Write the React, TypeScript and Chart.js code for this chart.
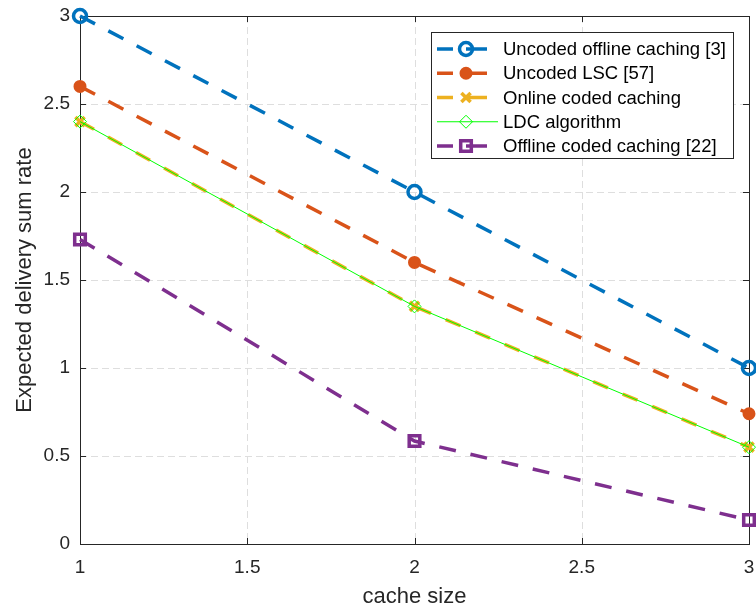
import React, { useEffect, useRef } from "react";
import { Chart, registerables } from "chart.js";
import { drawPoint } from "chart.js/helpers";

Chart.register(...registerables);

const cacheSizes = [1, 2, 3];
const uncodedOffline = [3, 2, 1];
const uncodedLSC = [2.6, 1.6, 0.74];
const onlineCoded = [2.4, 1.35, 0.55];
const ldcAlgorithm = [2.4, 1.35, 0.55];
const offlineCoded = [1.73, 0.585, 0.136];

const seriesLabels = [
  "Uncoded offline caching [3]",
  "Uncoded LSC [57]",
  "Online coded caching",
  "LDC algorithm",
  "Offline coded caching [22]",
];

const FONT = "'Liberation Sans', Arial, Helvetica, sans-serif";
const AXIS = "#262626";

const toXY = (ys: number[]) => cacheSizes.map((x, i) => ({ x, y: ys[i] }));

const gridBoxPlugin = {
  id: "gridBox",
  beforeDatasetsDraw(chart: any) {
    const { ctx, chartArea, scales } = chart;
    const { left, right, top, bottom } = chartArea;
    const xs = scales.x;
    const ys = scales.y;
    ctx.save();
    ctx.strokeStyle = "#dedede";
    ctx.lineWidth = 1;
    ctx.setLineDash([7, 4]);
    ctx.beginPath();
    xs.ticks.forEach((t: any) => {
      const px = Math.round(xs.getPixelForValue(t.value)) + 0.5;
      if (px <= left + 1 || px >= right - 1) return;
      ctx.moveTo(px, top);
      ctx.lineTo(px, bottom);
    });
    ys.ticks.forEach((t: any) => {
      const py = Math.round(ys.getPixelForValue(t.value)) + 0.5;
      if (py <= top + 1 || py >= bottom - 1) return;
      ctx.moveTo(left, py);
      ctx.lineTo(right, py);
    });
    ctx.stroke();
    ctx.setLineDash([]);
    ctx.strokeStyle = AXIS;
    const L = 6;
    ctx.beginPath();
    xs.ticks.forEach((t: any) => {
      const px = Math.round(xs.getPixelForValue(t.value)) + 0.5;
      ctx.moveTo(px, bottom);
      ctx.lineTo(px, bottom - L);
      ctx.moveTo(px, top);
      ctx.lineTo(px, top + L);
    });
    ys.ticks.forEach((t: any) => {
      const py = Math.round(ys.getPixelForValue(t.value)) + 0.5;
      ctx.moveTo(left, py);
      ctx.lineTo(left + L, py);
      ctx.moveTo(right, py);
      ctx.lineTo(right - L, py);
    });
    ctx.stroke();
    ctx.strokeRect(Math.round(left) + 0.5, Math.round(top) + 0.5, Math.round(right - left), Math.round(bottom - top));
    ctx.restore();
  },
};

const legendPlugin = {
  id: "matlabLegend",
  afterDraw(chart: any) {
    const { ctx } = chart;
    const boxL = 431, boxT = 32, boxW = 302, boxH = 126;
    ctx.save();
    ctx.fillStyle = "#ffffff";
    ctx.fillRect(boxL, boxT, boxW, boxH);
    ctx.strokeStyle = "#262626";
    ctx.lineWidth = 1;
    ctx.strokeRect(boxL + 0.5, boxT + 0.5, boxW, boxH);
    const rowY0 = 49;
    const rowStep = 24.25;
    chart.data.datasets.forEach((ds: any, i: number) => {
      const cy = rowY0 + i * rowStep;
      const mx = 466;
      ctx.strokeStyle = ds.borderColor;
      ctx.lineWidth = ds.borderWidth;
      ctx.setLineDash([]);
      ctx.beginPath();
      if (ds.borderDash && ds.borderDash.length) {
        ctx.moveTo(437, cy);
        ctx.lineTo(453, cy);
        ctx.moveTo(mx, cy);
        ctx.lineTo(487, cy);
      } else {
        ctx.moveTo(437, cy);
        ctx.lineTo(498, cy);
      }
      ctx.stroke();
      ctx.strokeStyle = ds.pointBorderColor;
      ctx.fillStyle = ds.pointBackgroundColor;
      ctx.lineWidth = ds.pointBorderWidth;
      drawPoint(ctx, { pointStyle: ds.pointStyle, rotation: 0, radius: ds.pointRadius, borderWidth: ds.pointBorderWidth }, mx, cy);
      ctx.fillStyle = "#000000";
      ctx.font = `18.5px ${FONT}`;
      ctx.textBaseline = "middle";
      ctx.textAlign = "left";
      ctx.fillText(ds.label, 503, cy + 1);
    });
    ctx.restore();
  },
};

export default function App() {
  const ref = useRef<HTMLCanvasElement | null>(null);
  useEffect(() => {
    document.body.style.margin = "0";
    const canvas = ref.current;
    if (!canvas) return;
    const blue = "#0072BD";
    const orange = "#D95319";
    const yellow = "#EDB120";
    const green = "#00FF00";
    const purple = "#7E2F8E";
    const dash = [17, 15];
    const chart = new Chart(canvas, {
      type: "line",
      data: {
        datasets: [
          {
            label: seriesLabels[0],
            data: toXY(uncodedOffline),
            borderColor: blue,
            borderWidth: 3.5,
            borderDash: dash,
            pointStyle: "circle",
            pointRadius: 6.5,
            pointBorderWidth: 3.5,
            pointBorderColor: blue,
            pointBackgroundColor: "rgba(255,255,255,0)",
            clip: false,
            order: 5,
          },
          {
            label: seriesLabels[1],
            data: toXY(uncodedLSC),
            borderColor: orange,
            borderWidth: 3.5,
            borderDash: dash,
            pointStyle: "circle",
            pointRadius: 5.5,
            pointBorderWidth: 2,
            pointBorderColor: orange,
            pointBackgroundColor: orange,
            clip: false,
            order: 4,
          },
          {
            label: seriesLabels[2],
            data: toXY(onlineCoded),
            borderColor: yellow,
            borderWidth: 3.5,
            borderDash: [16, 16],
            pointStyle: "crossRot",
            pointRadius: 6.5,
            pointBorderWidth: 3.5,
            pointBorderColor: yellow,
            pointBackgroundColor: yellow,
            clip: false,
            order: 3,
          },
          {
            label: seriesLabels[3],
            data: toXY(ldcAlgorithm),
            borderColor: green,
            borderWidth: 1,
            pointStyle: "rectRot",
            pointRadius: 6.5,
            pointBorderWidth: 1,
            pointBorderColor: green,
            pointBackgroundColor: "rgba(255,255,255,0)",
            clip: false,
            order: 2,
          },
          {
            label: seriesLabels[4],
            data: toXY(offlineCoded),
            borderColor: purple,
            borderWidth: 3.5,
            borderDash: dash,
            pointStyle: "rect",
            pointRadius: 7.5,
            pointBorderWidth: 3.5,
            pointBorderColor: purple,
            pointBackgroundColor: "rgba(255,255,255,0)",
            clip: false,
            order: 1,
          },
        ] as any,
      },
      options: {
        responsive: false,
        animation: false,
        events: [],
        layout: { autoPadding: false, padding: { top: 16, right: 7, bottom: 0, left: 0 } },
        plugins: { legend: { display: false }, tooltip: { enabled: false } },
        elements: { line: { tension: 0 } },
        scales: {
          x: {
            type: "linear",
            min: 1,
            max: 3,
            afterFit: (s: any) => {
              s.height = 70;
              s.paddingLeft = 0;
              s.paddingRight = 0;
            },
            ticks: {
              stepSize: 0.5,
              color: AXIS,
              font: { family: FONT, size: 19 },
              padding: 12.5,
              maxRotation: 0,
              callback: (v: any) => String(v),
            },
            grid: { display: false, drawTicks: false, tickLength: 0 },
            border: { display: false },
            title: {
              display: true,
              text: "cache size",
              color: AXIS,
              font: { family: FONT, size: 22 },
              padding: { top: 0, bottom: 4 },
            },
          },
          y: {
            type: "linear",
            min: 0,
            max: 3,
            afterFit: (s: any) => {
              s.width = 80;
              s.paddingTop = 0;
              s.paddingBottom = 0;
            },
            ticks: {
              stepSize: 0.5,
              color: AXIS,
              font: { family: FONT, size: 19 },
              padding: 10,
              callback: (v: any) => String(v),
            },
            grid: { display: false, drawTicks: false, tickLength: 0 },
            border: { display: false },
            title: {
              display: true,
              text: "Expected delivery sum rate",
              color: AXIS,
              font: { family: FONT, size: 22 },
              padding: { top: 12, bottom: 0 },
            },
          },
        },
      } as any,
      plugins: [gridBoxPlugin, legendPlugin],
    });
    return () => chart.destroy();
  }, []);
  return (
    <div style={{ width: 756, height: 614, background: "#fff" }}>
      <canvas ref={ref} width={756} height={614} style={{ display: "block" }} />
    </div>
  );
}
